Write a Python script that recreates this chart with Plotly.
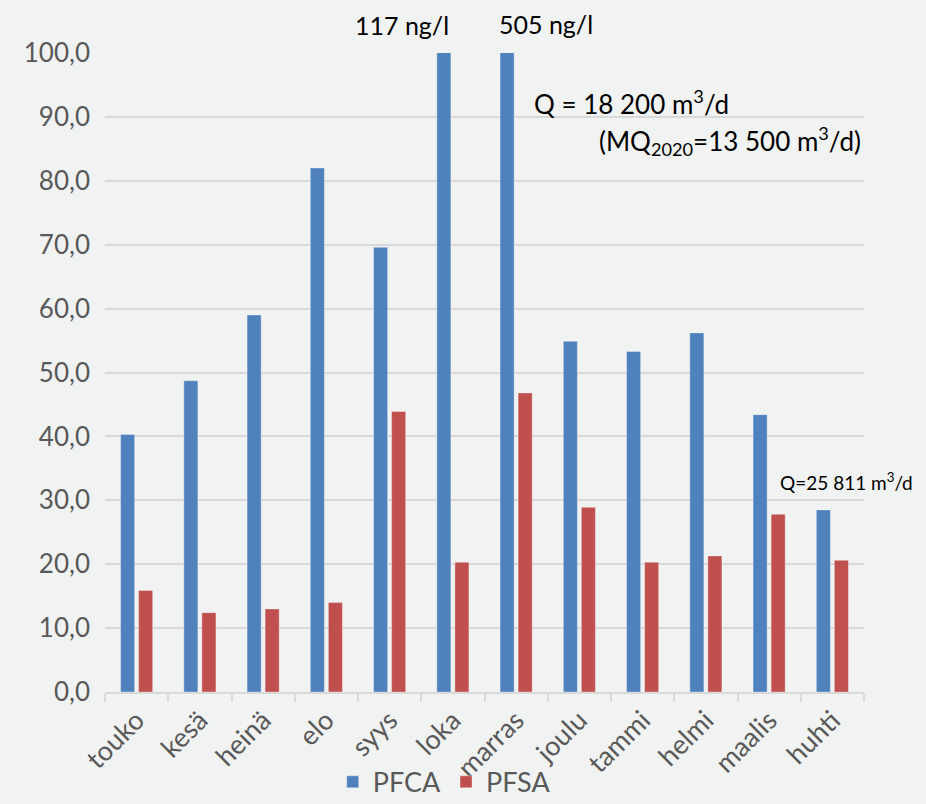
import plotly.graph_objects as go

months = ["touko", "kesä", "heinä", "elo", "syys", "loka", "marras",
          "joulu", "tammi", "helmi", "maalis", "huhti"]
pfca = [40.3, 48.7, 59.0, 82.0, 69.6, 117, 505, 54.9, 53.3, 56.2, 43.4, 28.5]
pfsa = [15.9, 12.4, 13.0, 14.0, 43.9, 20.3, 46.8, 28.9, 20.3, 21.3, 27.8, 20.6]
y_ticks = [0, 10, 20, 30, 40, 50, 60, 70, 80, 90, 100]
y_tick_labels = ["0,0", "10,0", "20,0", "30,0", "40,0", "50,0", "60,0",
                 "70,0", "80,0", "90,0", "100,0"]

BG = "#F1F2F2"
FONT = "Lato"

fig = go.Figure()
fig.add_trace(go.Bar(name="PFCA", x=months, y=pfca, marker_color="#4F81BD",
                     marker_line=dict(width=1, color="rgba(255,255,255,0.35)")))
fig.add_trace(go.Bar(name="PFSA", x=months, y=pfsa, marker_color="#C0504D",
                     marker_line=dict(width=1, color="rgba(255,255,255,0.35)")))

fig.update_layout(
    width=926, height=804,
    paper_bgcolor=BG, plot_bgcolor=BG,
    margin=dict(l=105, r=62, t=53, b=112, autoexpand=False),
    barmode="group", bargap=0.43, bargroupgap=0.22,
    font=dict(family=FONT, color="#595959", size=25),
    showlegend=True,
    legend=dict(orientation="h", x=0.3, xanchor="left",
                yref="container", y=0.027, yanchor="middle",
                font=dict(size=27, color="#595959"), bgcolor="rgba(0,0,0,0)",
                itemwidth=30, traceorder="normal"),
    xaxis=dict(type="category", showgrid=False, showline=True, linecolor="#D9D9D9",
               linewidth=1.5, ticks="outside", tickson="boundaries", ticklen=8,
               tickcolor="#D9D9D9", tickwidth=1.5, tickangle=-45, automargin=False,
               tickfont=dict(size=27, color="#595959")),
    yaxis=dict(range=[0, 100], tickvals=y_ticks, ticktext=y_tick_labels,
               showgrid=True, gridcolor="#D9D9D9", gridwidth=1.5, automargin=False,
               zeroline=False, showline=False, ticks="", ticklabelstandoff=14,
               tickfont=dict(size=26, color="#595959")),
)

ann_font = dict(family=FONT, size=25, color="#000000")
fig.add_annotation(text="117 ng/l", xref="paper", yref="paper", x=0.391, y=1.044,
                   showarrow=False, font=ann_font, xanchor="center", yanchor="middle")
fig.add_annotation(text="505 ng/l", xref="paper", yref="paper", x=0.581, y=1.046,
                   showarrow=False, font=ann_font, xanchor="center", yanchor="middle")
fig.add_annotation(text="Q = 18 200 m<sup>3</sup>/d", xref="paper", yref="paper",
                   x=0.5626, y=0.923, showarrow=False, font=dict(family=FONT, size=26, color="#000000"),
                   xanchor="left", yanchor="middle")
fig.add_annotation(text="(MQ<sub>2020</sub>=13 500 m<sup>3</sup>/d)", xref="paper",
                   yref="paper", x=0.648, y=0.862, showarrow=False,
                   font=dict(family=FONT, size=26, color="#000000"),
                   xanchor="left", yanchor="middle")
fig.add_annotation(text="Q=25 811 m<sup>3</sup>/d", xref="paper", yref="paper",
                   x=0.887, y=0.330, showarrow=False,
                   font=dict(family=FONT, size=19, color="#000000"),
                   xanchor="left", yanchor="middle")

fig.write_html("out.html", config={"displayModeBar": False},
               post_script="document.body.style.margin='0';document.body.style.overflow='hidden';")
